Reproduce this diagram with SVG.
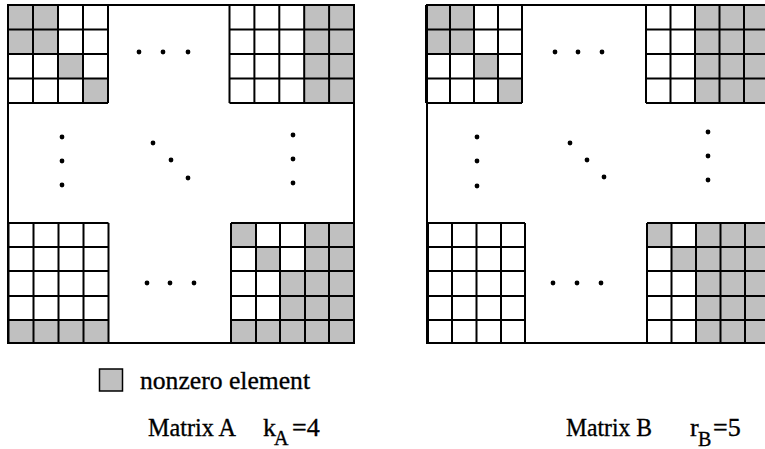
<svg xmlns="http://www.w3.org/2000/svg" width="765" height="449" viewBox="0 0 765 449">
<style>
.nz{fill:#c0c0c0}
.g{fill:none;stroke:#000;stroke-width:2}
.box{fill:none;stroke:#000;stroke-width:2}
.dot{fill:#000}
.lbl{font-size:26px}
.sub{font-size:20px}
</style>
<rect width="765" height="449" fill="#fff"/>
<g id="matrixA">
  <g id="A-topleft">
    <rect class="nz" x="8" y="5" width="50" height="49"/>
    <rect class="nz" x="58" y="54" width="25" height="24.5"/>
    <rect class="nz" x="83" y="78.5" width="25" height="24.5"/>
    <path class="g" d="M8 5V103M33 5V103M58 5V103M83 5V103M108 5V103M8 5H108M8 29.5H108M8 54H108M8 78.5H108M8 103H108"/>
  </g>
  <g id="A-topright">
    <rect class="nz" x="304.2" y="5" width="49.8" height="98"/>
    <path class="g" d="M229.5 5V103M254.4 5V103M279.3 5V103M304.2 5V103M329.1 5V103M354 5V103M229.5 5H354M229.5 29.5H354M229.5 54H354M229.5 78.5H354M229.5 103H354"/>
  </g>
  <g id="A-bottomleft">
    <rect class="nz" x="8.5" y="320" width="100" height="23"/>
    <path class="g" d="M8.5 223V343M33.5 223V343M58.5 223V343M83.5 223V343M108.5 223V343M8.5 223H108.5M8.5 247H108.5M8.5 271H108.5M8.5 296H108.5M8.5 320H108.5M8.5 343H108.5"/>
  </g>
  <g id="A-bottomright">
    <rect class="nz" x="305" y="223" width="49" height="120"/>
    <rect class="nz" x="280" y="271" width="25" height="72"/>
    <rect class="nz" x="231" y="223" width="25" height="24"/>
    <rect class="nz" x="256" y="247" width="24" height="24"/>
    <rect class="nz" x="231" y="320" width="49" height="23"/>
    <path class="g" d="M231 223V343M256 223V343M280 223V343M305 223V343M329 223V343M354 223V343M231 223H354M231 247H354M231 271H354M231 296H354M231 320H354M231 343H354"/>
  </g>
  <rect id="A-border" class="box" x="8" y="5" width="346" height="338"/>
  <g id="A-dots">
    <circle class="dot" cx="139" cy="52" r="2.4"/><circle class="dot" cx="163" cy="52" r="2.4"/><circle class="dot" cx="188" cy="52" r="2.4"/>
    <circle class="dot" cx="62" cy="137" r="2.4"/><circle class="dot" cx="62" cy="161" r="2.4"/><circle class="dot" cx="62" cy="185" r="2.4"/>
    <circle class="dot" cx="153" cy="143" r="2.4"/><circle class="dot" cx="171" cy="160" r="2.4"/><circle class="dot" cx="188" cy="178" r="2.4"/>
    <circle class="dot" cx="293" cy="135" r="2.4"/><circle class="dot" cx="293" cy="159" r="2.4"/><circle class="dot" cx="293" cy="183" r="2.4"/>
    <circle class="dot" cx="147" cy="283" r="2.4"/><circle class="dot" cx="170" cy="283" r="2.4"/><circle class="dot" cx="194" cy="283" r="2.4"/>
  </g>
</g>
<g id="matrixB">
  <g id="B-topleft">
    <rect class="nz" x="426" y="5" width="48" height="49"/>
    <rect class="nz" x="474" y="54" width="24" height="24.5"/>
    <rect class="nz" x="498" y="78.5" width="24" height="24.5"/>
    <path class="g" d="M426 5V103M450 5V103M474 5V103M498 5V103M522 5V103M426 5H522M426 29.5H522M426 54H522M426 78.5H522M426 103H522"/>
  </g>
  <g id="B-topright">
    <rect class="nz" x="695" y="5" width="74" height="98"/>
    <path class="g" d="M646 5V103M670.5 5V103M695 5V103M719.5 5V103M744 5V103M768.5 5V103M646 5H769M646 29.5H769M646 54H769M646 78.5H769M646 103H769"/>
  </g>
  <g id="B-bottomleft">
    <path class="g" d="M428 223V343M452 223V343M476.5 223V343M501 223V343M525 223V343M428 223H525M428 247H525M428 271H525M428 296H525M428 320H525M428 343H525"/>
  </g>
  <g id="B-bottomright">
    <rect class="nz" x="696" y="223" width="74" height="120"/>
    <rect class="nz" x="647" y="223" width="24.5" height="24"/>
    <rect class="nz" x="671.5" y="247" width="24.5" height="24"/>
    <path class="g" d="M647 223V343M671.5 223V343M696 223V343M720.5 223V343M745 223V343M769.5 223V343M647 223H770M647 247H770M647 271H770M647 296H770M647 320H770M647 343H770"/>
  </g>
  <path id="B-border" class="box" d="M770 5H427V343H770"/>
  <g id="B-dots">
    <circle class="dot" cx="555" cy="52" r="2.4"/><circle class="dot" cx="578" cy="52" r="2.4"/><circle class="dot" cx="602" cy="52" r="2.4"/>
    <circle class="dot" cx="477" cy="137" r="2.4"/><circle class="dot" cx="477" cy="161" r="2.4"/><circle class="dot" cx="477" cy="186" r="2.4"/>
    <circle class="dot" cx="570" cy="143" r="2.4"/><circle class="dot" cx="587" cy="160" r="2.4"/><circle class="dot" cx="604" cy="177" r="2.4"/>
    <circle class="dot" cx="708" cy="132" r="2.4"/><circle class="dot" cx="708" cy="156" r="2.4"/><circle class="dot" cx="708" cy="180" r="2.4"/>
    <circle class="dot" cx="553" cy="283" r="2.4"/><circle class="dot" cx="577" cy="283" r="2.4"/><circle class="dot" cx="601" cy="283" r="2.4"/>
  </g>
</g>
<g font-family="'Liberation Serif', 'DejaVu Serif', serif" fill="#000" stroke="#000" stroke-width="0.35">
<g id="legend">
  <rect class="nz" x="99.5" y="369" width="23" height="22" stroke="#000" stroke-width="1.5"/>
  <text class="lbl" x="140" y="389" textLength="170" lengthAdjust="spacingAndGlyphs">nonzero element</text>
</g>
<g id="labels">
  <text class="lbl" x="148" y="436" textLength="88" lengthAdjust="spacingAndGlyphs">Matrix A</text>
  <text class="lbl" x="263" y="436">k</text>
  <text class="sub" x="274" y="445">A</text>
  <text class="lbl" x="292" y="436">=4</text>
  <text class="lbl" x="566" y="436" textLength="86" lengthAdjust="spacingAndGlyphs">Matrix B</text>
  <text class="lbl" x="690" y="436">r</text>
  <text class="sub" x="698" y="446">B</text>
  <text class="lbl" x="713" y="436">=5</text>
</g>
</g>
</svg>
